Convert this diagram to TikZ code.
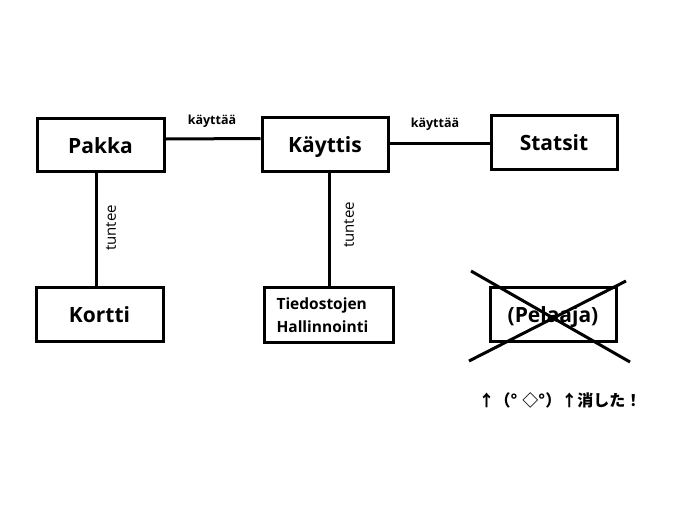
\documentclass[tikz,border=0pt]{standalone}
\usepackage{fontspec}
\setmainfont{Open Sans}
\newfontfamily\cjkfont{Noto Sans CJK JP}
\begin{document}
\begin{tikzpicture}[x=1pt,y=-1pt,
  ent/.style={draw, line width=3pt, minimum width=#1, inner sep=0pt},
  big/.style={font=\fontsize{21}{24}\selectfont\bfseries, text height=17pt, text depth=0pt},
  rel/.style={font=\fontsize{12.5}{15}\selectfont\bfseries},
  relv/.style={font=\fontsize{15}{17}\selectfont, rotate=90},
  conn/.style={line width=3pt}]
\useasboundingbox[fill=white] (0,0) rectangle (675,504);
\node[ent=127pt, minimum height=53pt, big] (pakka) at (100.5,144.5) {Pakka};
\node[ent=126pt, minimum height=54pt, big] (kayttis) at (325,144) {Käyttis};
\node[ent=126pt, minimum height=54pt, big] (statsit) at (554,142) {Statsit};
\node[ent=127pt, minimum height=54pt, big] (kortti) at (99.5,314) {Kortti};
\node[ent=129pt, minimum height=55pt] (tied) at (328.5,314.5) {};
\node[anchor=west, align=left, font=\fontsize{15.5}{23}\selectfont\bfseries] (tiedtext) at (273,315.5) {Tiedostojen\\Hallinnointi};
\node[ent=126pt, minimum height=54pt, big] (pelaaja) at (553,314) {(Pelaaja)};
\draw[conn] ([yshift=5.5pt]pakka.east) -- ([yshift=5.5pt]kayttis.west);
\draw[conn] ([yshift=1pt]kayttis.east) -- ([yshift=-1pt]statsit.west);
\draw[conn] ([xshift=-4.5pt]pakka.south) -- ([xshift=-4.5pt]pakka.south |- kortti.north);
\draw[conn] ([xshift=4pt]kayttis.south) -- ([xshift=4pt]kayttis.south |- tied.north);
\node[rel] (l1) at (212,121) {käyttää};
\node[rel] (l2) at (435,124) {käyttää};
\node[relv] (l3) at (111,228) {tuntee};
\node[relv] (l4) at (349,225) {tuntee};
\draw[line width=3pt] (471,271) -- (630,362);
\draw[line width=3pt] (469,361) -- (626,281);
\node[font=\fontsize{16}{18}\selectfont\cjkfont\bfseries] (kao) at (560,400) {↑（°\hspace{5pt}◇°）↑消した！};
\end{tikzpicture}
\end{document}
